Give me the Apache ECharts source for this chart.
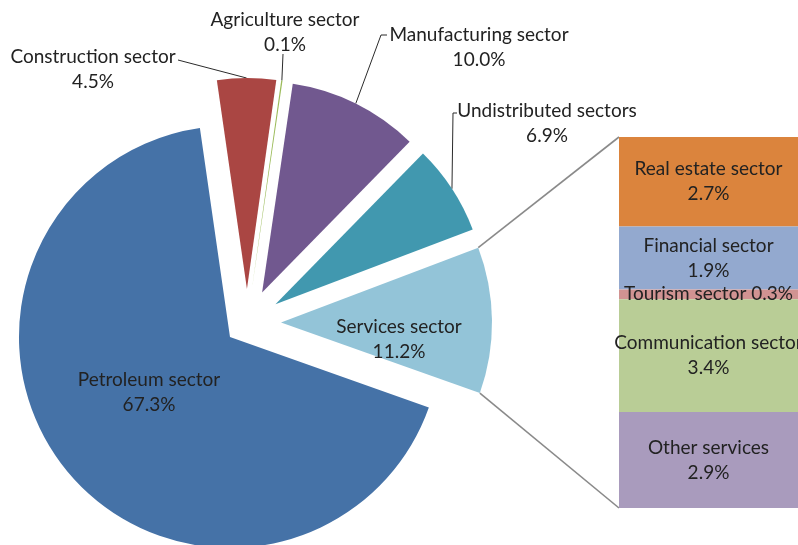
<!DOCTYPE html>
<html>
<head>
<meta charset="utf-8">
<script src="https://cdn.jsdelivr.net/npm/echarts@6/dist/echarts.min.js"></script>
<style>
  html, body { margin: 0; padding: 0; background: #ffffff; }
  #chart { width: 798px; height: 545px; }
</style>
</head>
<body>
<div id="chart"></div>
<script>
// Sector shares of GDP (%), pie slices in clockwise order from the top
const pieNames = ['Construction sector', 'Agriculture sector', 'Manufacturing sector',
                  'Undistributed sectors', 'Services sector', 'Petroleum sector'];
const pieValues = [4.5, 0.1, 10.0, 6.9, 11.2, 67.3];

// Breakdown of the services sector, stacked top to bottom
const barNames = ['Real estate sector', 'Financial sector', 'Tourism sector',
                  'Communication sector', 'Other services'];
const barValues = [2.7, 1.9, 0.3, 3.4, 2.9];

// Palette
const pieColors = ['#AA4643', '#9BBB59', '#71588F', '#4198AF', '#93C4D8', '#4572A7'];
const barColors = ['#DB843D', '#93A9CF', '#D19392', '#B9CD96', '#A99BBD'];

// Layout
const PIE_CENTER = [247, 323];
const PIE_RADIUS = 211;
const START_ANGLE = 98.2;          // degrees, counter-clockwise from 3 o'clock
const EXPLODE = 34;                // how far the smaller slices are pulled out
const EXPLODE_MAIN = 22;           // how far the largest slice is pulled out
const BAR_RECT = { left: 619, top: 137, width: 182, height: 371 };
const FONT = 'Lato, "Open Sans", sans-serif';
const FONT_SIZE = 19;
const LINE_HEIGHT = 25;
const TEXT_COLOR = '#222222';

const fmt = v => v.toFixed(1) + '%';
const total = pieValues.reduce((a, b) => a + b, 0);
const rad = d => d * Math.PI / 180;

// Where each pie label sits and how its leader line runs
const labelSpots = {
  'Construction sector':   { x: 93,  y: 69,  line: s => [s, [178, 60], [178, 60]] },
  'Agriculture sector':    { x: 285, y: 32,  line: s => [s, [283, 54], [283, 54]] },
  'Manufacturing sector':  { x: 479, y: 47,  line: s => [s, [381, 35], [387, 35]] },
  'Undistributed sectors': { x: 547, y: 123, line: s => [s, [453, 113], [457, 113]] },
  'Services sector':       { x: 399, y: 339 },
  'Petroleum sector':      { x: 149, y: 392 }
};

// Angles (degrees, ECharts convention) bounding slice k
function sliceAngles(k) {
  const before = pieValues.slice(0, k).reduce((a, b) => a + b, 0);
  const a0 = START_ANGLE - before / total * 360;
  const a1 = START_ANGLE - (before + pieValues[k]) / total * 360;
  return [a0, a1];
}

// Centre of slice k once it has been pulled out along its bisector
function sliceCenter(k) {
  const [a0, a1] = sliceAngles(k);
  const mid = rad((a0 + a1) / 2);
  const off = pieNames[k] === 'Petroleum sector' ? EXPLODE_MAIN : EXPLODE;
  return [PIE_CENTER[0] + off * Math.cos(mid), PIE_CENTER[1] - off * Math.sin(mid)];
}

// One pie series per slice so that every slice can be exploded on its own
function sliceSeries(k) {
  const name = pieNames[k];
  const inside = name === 'Services sector' || name === 'Petroleum sector';
  return {
    type: 'pie',
    name: name,
    center: sliceCenter(k),
    radius: [0, PIE_RADIUS],
    startAngle: START_ANGLE,
    clockwise: true,
    avoidLabelOverlap: false,
    silent: true,
    animation: false,
    z: 2,
    itemStyle: { borderWidth: 0 },
    label: {
      formatter: p => p.name + '\n' + fmt(p.value),
      fontFamily: FONT,
      fontSize: FONT_SIZE,
      lineHeight: LINE_HEIGHT,
      color: TEXT_COLOR,
      align: 'center'
    },
    labelLine: { lineStyle: { color: '#2b2b2b', width: 1 }, smooth: false },
    labelLayout: p => {
      if (p.dataIndex !== k) return {};
      const spot = labelSpots[name];
      const out = { x: spot.x, y: spot.y, align: 'center', verticalAlign: 'middle' };
      if (spot.line && p.labelLinePoints) out.labelLinePoints = spot.line(p.labelLinePoints[0]);
      return out;
    },
    data: pieNames.map((n, i) => ({
      name: n,
      value: pieValues[i],
      itemStyle: { color: i === k ? pieColors[i] : 'rgba(0,0,0,0)', borderWidth: 0 },
      label: { show: i === k, position: inside ? 'inside' : 'outside' },
      labelLine: { show: i === k && !inside }
    }))
  };
}

// Stacked column that breaks the services slice down
const barSeries = barNames.map((name, i) => ({
  type: 'bar',
  name: name,
  stack: 'services',
  barWidth: '100%',
  animation: false,
  silent: true,
  itemStyle: { color: barColors[i] },
  label: {
    show: true,
    position: 'inside',
    formatter: p => name === 'Tourism sector'
      ? name + ' ' + fmt(p.value)
      : name + '\n' + fmt(p.value),
    fontFamily: FONT,
    fontSize: FONT_SIZE,
    lineHeight: LINE_HEIGHT,
    color: TEXT_COLOR,
    overflow: 'none'
  },
  data: [barValues[i]]
}));

// Connector lines from the services slice corners to the column corners
function connectors() {
  const k = pieNames.indexOf('Services sector');
  const [a0, a1] = sliceAngles(k).map(rad);
  const c = sliceCenter(k);
  const p0 = [c[0] + PIE_RADIUS * Math.cos(a0), c[1] - PIE_RADIUS * Math.sin(a0)];
  const p1 = [c[0] + PIE_RADIUS * Math.cos(a1), c[1] - PIE_RADIUS * Math.sin(a1)];
  const style = { stroke: '#8a8a8a', lineWidth: 1.6 };
  return [
    { type: 'line', z: 1, shape: { x1: p0[0], y1: p0[1], x2: BAR_RECT.left, y2: BAR_RECT.top }, style: style },
    { type: 'line', z: 1, shape: { x1: p1[0], y1: p1[1], x2: BAR_RECT.left, y2: BAR_RECT.top + BAR_RECT.height }, style: style }
  ];
}

const chart = echarts.init(document.getElementById('chart'), null, { renderer: 'canvas' });
chart.setOption({
  backgroundColor: '#ffffff',
  animation: false,
  grid: {
    left: BAR_RECT.left,
    top: BAR_RECT.top,
    width: BAR_RECT.width,
    height: BAR_RECT.height,
    containLabel: false
  },
  xAxis: { type: 'category', data: ['Services'], show: false },
  yAxis: {
    type: 'value',
    show: false,
    inverse: true,
    min: 0,
    max: barValues.reduce((a, b) => a + b, 0)
  },
  graphic: connectors(),
  series: pieNames.map((_, k) => sliceSeries(k)).concat(barSeries)
});
</script>
</body>
</html>
